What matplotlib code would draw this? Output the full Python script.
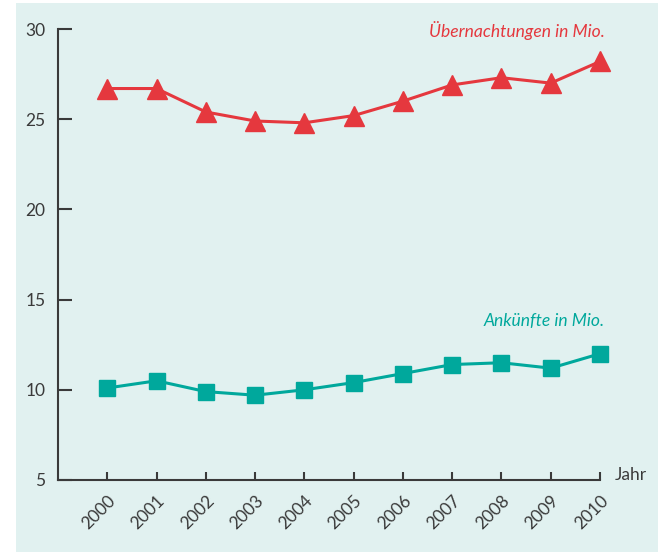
import matplotlib
matplotlib.use("Agg")
import matplotlib.pyplot as plt
from matplotlib.patches import Rectangle

plt.rcParams['font.family'] = ['Lato', 'DejaVu Sans']

years = [2000, 2001, 2002, 2003, 2004, 2005, 2006, 2007, 2008, 2009, 2010]
uebernachtungen = [26.7, 26.7, 25.4, 24.9, 24.8, 25.2, 26.0, 26.9, 27.3, 27.0, 28.2]
ankuenfte = [10.1, 10.5, 9.9, 9.7, 10.0, 10.4, 10.9, 11.4, 11.5, 11.2, 12.0]
yticks = [5, 10, 15, 20, 25, 30]

red = '#e5383e'
teal = '#00a89c'
axcol = '#3a3a3a'
bg = '#e1f1f0'

fig = plt.figure(figsize=(6.65, 5.52), dpi=100)
fig.patch.set_facecolor('white')
fig.patches.append(Rectangle((16 / 665, 0), 642 / 665, 549 / 552, transform=fig.transFigure,
                             facecolor=bg, edgecolor='none', zorder=-10))

ax = fig.add_axes([58 / 665, 72 / 552, 542 / 665, 451 / 552])
ax.set_zorder(5)
ax.set_facecolor('none')

ax.plot(years, uebernachtungen, color=red, lw=2.2, marker='^', ms=15, clip_on=False)
ax.plot(years, ankuenfte, color=teal, lw=2.2, marker='s', ms=12, clip_on=False)

ax.set_xlim(1999, 2010)
ax.set_ylim(5, 30)
ax.set_xticks(years)
ax.set_yticks(yticks)
ax.set_xticklabels([str(y) for y in years], rotation=45, ha='right', rotation_mode='anchor')

for s in ['top', 'right']:
    ax.spines[s].set_visible(False)
for s in ['left', 'bottom']:
    ax.spines[s].set_color(axcol)
    ax.spines[s].set_linewidth(1.5)

ax.tick_params(axis='y', direction='in', length=10, width=1.5, color=axcol, pad=9,
               labelsize=12.5, labelcolor=axcol)
ax.tick_params(axis='x', direction='in', length=6, width=1.5, color=axcol, pad=9,
               labelsize=12.5, labelcolor=axcol)

ax.text(2010.1, 29.9, 'Übernachtungen in Mio.', color=red, style='italic', fontsize=12.6,
        ha='right', va='center')
ax.text(2010.1, 13.8, 'Ankünfte in Mio.', color=teal, style='italic', fontsize=12.6,
        ha='right', va='center')
ax.text(1.028, 0.012, 'Jahr', transform=ax.transAxes, color=axcol, fontsize=12.5,
        ha='left', va='center')

fig.savefig('out.png', dpi=100)
